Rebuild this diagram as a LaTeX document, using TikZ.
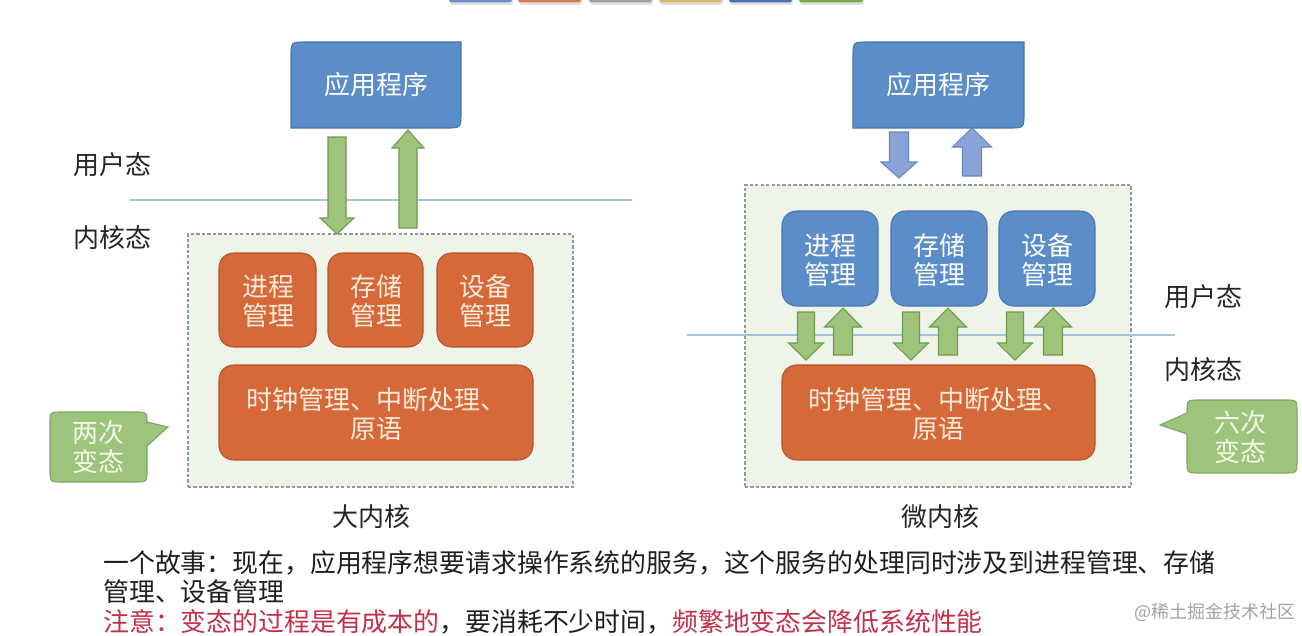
\documentclass[tikz,border=0pt]{standalone}
\usepackage{fontspec}
\setmainfont{Noto Sans CJK SC}
\usetikzlibrary{fit}
\definecolor{bluefill}{HTML}{5B8DC8}
\definecolor{blueline}{HTML}{4A77AE}
\definecolor{orangefill}{HTML}{D5693A}
\definecolor{orangeline}{HTML}{B0552C}
\definecolor{greenfill}{HTML}{9DC47A}
\definecolor{greenline}{HTML}{6F9A50}
\definecolor{barrowfill}{HTML}{8BA4D8}
\definecolor{barrowline}{HTML}{6A86BE}
\definecolor{callfill}{HTML}{9DC47D}
\definecolor{callline}{HTML}{7FA561}
\definecolor{regionfill}{HTML}{EFF4E9}
\definecolor{dashgray}{HTML}{8C9AA6}
\definecolor{lineblue}{HTML}{A6C2DF}
\definecolor{boxtext}{HTML}{FBEBDC}
\definecolor{calltext}{HTML}{F4F8E6}
\definecolor{warnred}{HTML}{C2304A}
\definecolor{wmgray}{HTML}{A3A3A3}
\newcommand\fsz{\fontsize{19.5pt}{22pt}\selectfont}
\newcommand\fszb{\fontsize{19.4pt}{22pt}\selectfont}
% vertical block arrow: style, x, tail y, head-base y, tip y, shaft half width, head half width
\newcommand\varrow[7]{\draw[#1] ({#2-#6},#3) -- ({#2+#6},#3) -- ({#2+#6},#4) -- ({#2+#7},#4) -- (#2,#5) -- ({#2-#7},#4) -- ({#2-#6},#4) -- cycle;}
% app box with rounded top-left and bottom-right corners: x1,y1,x2,y2
\newcommand\appshape[4]{\draw[appbox] (#1,#4) -- (#1,{#2+15}) .. controls (#1,#2) .. ({#1+15},#2) -- (#3,#2) -- (#3,{#4-15}) .. controls (#3,#4) .. ({#3-15},#4) -- cycle;}
\begin{document}
\begin{tikzpicture}[x=0.75pt,y=-0.75pt,
  region/.style={draw=dashgray, fill=regionfill, dash pattern=on 2.5pt off 1.6pt, line width=0.9pt},
  obox/.style={draw=orangeline, fill=orangefill, rounded corners=11pt, line width=0.8pt, inner sep=0pt},
  bbox/.style={draw=blueline, fill=bluefill, rounded corners=11pt, line width=0.8pt, inner sep=0pt},
  otxt/.style={text=boxtext, font=\fsz, align=center, inner sep=0pt},
  btext/.style={text=white, font=\fsz, align=center, inner sep=0pt},
  appbox/.style={draw=blueline, fill=bluefill, line width=0.8pt},
  apptext/.style={text=white, font=\fsz},
  garrow/.style={draw=greenline, fill=greenfill, line width=0.8pt},
  barrow/.style={draw=barrowline, fill=barrowfill, line width=0.8pt},
  callout/.style={draw=callline, fill=callfill, line width=0.8pt},
  calltxt/.style={text=calltext, font=\fsz, align=center},
  stateline/.style={draw=lineblue, line width=1pt},
  lbl/.style={font=\fsz, text=black!85},
  btxt/.style={font=\fszb, text=black!88, anchor=west, inner sep=0pt}
]
\useasboundingbox (0,0) rectangle (1302,635);
\fill[white] (0,0) rectangle (1302,635);

% top colour bars (cut by page edge)
\foreach \xa/\xb/\c in {449/512/6A8FC0, 518/581/D67A55, 589/652/A0A0A0, 659/722/D9B870, 729/792/4A6FB8, 799/863/78A850}{
  \definecolor{tmpc}{HTML}{\c}
  \fill[black!12, rounded corners=2pt] (\xa+1,-4) rectangle (\xb+1,5);
  \fill[tmpc, rounded corners=2pt] (\xa,-4) rectangle (\xb,2.5);
}

% ================= left: monolithic kernel =================
\draw[stateline] (130,200) -- (632,200);
\node[lbl] (userL) at (112,165) {用户态};
\node[lbl] (kernL) at (112,238) {内核态};

\node[region, fit={(188,234) (573,487)}, inner sep=0pt] (regL) {};

\appshape{291}{42}{461}{128}
\node[apptext] (appL) at (376,85) {应用程序};

\varrow{garrow}{337}{137}{218}{234}{9}{17}
\varrow{garrow}{408}{228}{148}{130}{9}{16}

\node[obox, fit={(219,253) (316,347)}] (procL) {};
\node[obox, fit={(328,253) (423,347)}] (memL) {};
\node[obox, fit={(437,253) (533,347)}] (devL) {};
\node[obox, fit={(219,365) (533,460)}] (coreL) {};
\node[otxt] (procLt) at (268,301) {进程\\管理};
\node[otxt] (memLt) at (376,301) {存储\\管理};
\node[otxt] (devLt) at (485,301) {设备\\管理};
\node[otxt] (coreLt) at (376,414) {时钟管理、中断处理、\\原语};

\draw[callout] (62,412) -- (135,412) .. controls (147,412) .. (147,424) -- (147,422) -- (168,427) -- (147,446) -- (147,470) .. controls (147,482) .. (135,482) -- (62,482) .. controls (50,482) .. (50,470) -- (50,424) .. controls (50,412) .. cycle;
\node[calltxt] (callL) at (98,447) {两次\\变态};

\node[lbl] (bigK) at (371,517) {大内核};

% ================= right: microkernel =================
\node[region, fit={(745,185) (1131,487)}, inner sep=0pt] (regR) {};
\draw[stateline] (687,335) -- (1175,335);
\node[lbl] (userR) at (1203,297) {用户态};
\node[lbl] (kernR) at (1203,370) {内核态};

\appshape{853}{42}{1024}{128}
\node[apptext] (appR) at (938,85) {应用程序};

\varrow{barrow}{899}{132}{162}{178}{9.5}{18}
\varrow{barrow}{972}{176}{147}{128}{9.5}{19.5}

\node[bbox, fit={(782,211) (878,306)}] (procR) {};
\node[bbox, fit={(891,211) (987,306)}] (memR) {};
\node[bbox, fit={(999,211) (1095,306)}] (devR) {};
\node[obox, fit={(782,365) (1095,460)}] (coreR) {};
\node[btext] (procRt) at (830,260) {进程\\管理};
\node[btext] (memRt) at (939,260) {存储\\管理};
\node[btext] (devRt) at (1047,260) {设备\\管理};
\node[otxt] (coreRt) at (938,414) {时钟管理、中断处理、\\原语};

\foreach \d/\u in {806/843, 911/948, 1015/1053}{
  \varrow{garrow}{\d}{312}{343}{360}{8.5}{17.5}
  \varrow{garrow}{\u}{355}{327}{308}{9.5}{18.5}
}

\draw[callout] (1199,400) -- (1285,400) .. controls (1297,400) .. (1297,412) -- (1297,461) .. controls (1297,473) .. (1285,473) -- (1199,473) .. controls (1187,473) .. (1187,461) -- (1187,434) -- (1160,425) -- (1187,413) -- (1187,412) .. controls (1187,400) .. cycle;
\node[calltxt] (callR) at (1240,437) {六次\\变态};

\node[lbl] (microK) at (940,517) {微内核};

% ================= bottom text =================
\node[btxt] (story1) at (103,563) {一个故事：现在，应用程序想要请求操作系统的服务，这个服务的处理同时涉及到进程管理、存储};
\node[btxt] (story2) at (103,592) {管理、设备管理};
\node[btxt] (note) at (103,622) {\textcolor{warnred}{注意：变态的过程是有成本的}，要消耗不少时间，\textcolor{warnred}{频繁地变态会降低系统性能}};

\node[font=\fontsize{13.5pt}{15pt}\selectfont, text=wmgray, anchor=east, inner sep=0pt] (wm) at (1296,612) {@稀土掘金技术社区};
\end{tikzpicture}
\end{document}
